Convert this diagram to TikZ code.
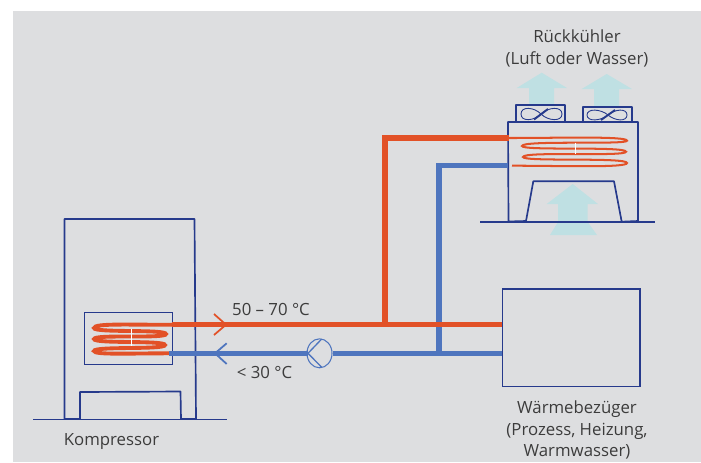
\documentclass[tikz,border=0pt]{standalone}
\usepackage{fontspec}
\setmainfont{Open Sans}
\usetikzlibrary{shapes.geometric}
\definecolor{wandblau}{HTML}{263A8C}
\definecolor{heissrot}{HTML}{E25127}
\definecolor{kaltblau}{HTML}{4E75BE}
\definecolor{luftblau}{HTML}{BFE0E3}
\definecolor{hintergrund}{HTML}{DDDEE0}
\definecolor{schrift}{HTML}{3C3C3C}
\begin{document}
\begin{tikzpicture}[scale=0.2]
		\tikzstyle{every node}+=[inner sep=0pt]
		\tikzstyle{wand}=[draw=wandblau,line width=0.95pt,line join=round]
		\tikzstyle{boden}=[draw=wandblau,line width=0.6pt]
		\tikzstyle{heiss}=[draw=heissrot,line width=2.9pt]
		\tikzstyle{kalt}=[draw=kaltblau,line width=2.9pt]
		\tikzstyle{wendel}=[draw=heissrot,line width=2.2pt]
		\tikzstyle{luft}=[fill=luftblau]
		\tikzstyle{beschriftung}=[text=schrift,font=\fontsize{9.55}{12.3}\selectfont,align=center]
		\useasboundingbox (0,0) rectangle (70.1,-46.2);
		\fill [hintergrund] (1.3,-1.1) rectangle (70.1,-46.2);
		\fill [luft] (54.17,-7.27) -- (56.7,-8.8) -- (55.4,-8.8) -- (55.4,-10.5) -- (52.9,-10.5) -- (52.9,-8.8) -- (51.67,-8.8) -- cycle;
		\fill [luft] (60.67,-7.4) -- (63.2,-8.9) -- (61.9,-8.9) -- (61.9,-10.67) -- (59.4,-10.67) -- (59.4,-8.9) -- (58.17,-8.9) -- cycle;
		\fill [luft] (57.27,-18.4) -- (59.8,-20.4) -- (58.77,-20.4) -- (58.77,-22.2) -- (59.7,-23.5) -- (55,-23.5) -- (55.8,-22.2) -- (55.8,-20.4) -- (54.67,-20.4) -- cycle;
		\coordinate (kboden1) at (3.3,-41.95);
		\coordinate (kboden2) at (22.7,-41.95);
		\coordinate (rboden1) at (48,-22.2);
		\coordinate (rboden2) at (65.5,-22.2);
		\draw [boden] (kboden1) -- (kboden2);
		\draw [boden] (rboden1) -- (rboden2);
		\draw [wand] (6.45,-41.9) -- (6.45,-21.9) -- (19.45,-21.9) -- (19.6,-41.9) -- (18.1,-41.9) -- (18.05,-39.15) -- (8,-39.2) -- (8,-41.9) -- cycle;
		\draw [wandblau,line width=0.75pt] (8.47,-31.27) rectangle (17.27,-36.47);
		\draw [wand] (50.8,-12.2) -- (63.8,-12.2) -- (63.8,-22.1) -- (62.17,-22.17) -- (61.4,-18.13) -- (53.33,-18.13) -- (52.6,-22.1) -- (50.85,-22.15) -- cycle;
		\draw [wand] (51.57,-10.5) rectangle (56.5,-12.2);
		\draw [wand] (58.27,-10.67) rectangle (63.17,-12.2);
		\draw [wandblau,line width=0.5pt] (54.1,-11.4) .. controls (54.8,-10.7) and (56.2,-10.6) .. (56.2,-11.4) .. controls (56.2,-12.2) and (54.8,-12.1) .. (54.1,-11.4) .. controls (53.4,-10.7) and (52.1,-10.6) .. (52.1,-11.4) .. controls (52.1,-12.2) and (53.4,-12.1) .. cycle;
		\draw [wandblau,line width=1.1pt] (53.4,-11.95) -- (54.8,-10.9);
		\draw [wandblau,line width=0.5pt] (60.8,-11.5) .. controls (61.5,-10.9) and (62.7,-10.8) .. (62.7,-11.5) .. controls (62.7,-12.2) and (61.5,-12.1) .. (60.8,-11.5) .. controls (60.1,-10.9) and (58.7,-10.8) .. (58.7,-11.5) .. controls (58.7,-12.2) and (60.1,-12.1) .. cycle;
		\draw [wandblau,line width=1.1pt] (60.1,-12) -- (61.5,-11);
		\coordinate (ausgang) at (17.2,-32.47);
		\coordinate (eingang) at (16.9,-35.33);
		\coordinate (hoch1) at (38.5,-32.47);
		\coordinate (hoch2) at (38.5,-13.8);
		\coordinate (rein) at (50.9,-13.8);
		\coordinate (tief1) at (43.9,-35.33);
		\coordinate (tief2) at (43.9,-16.57);
		\coordinate (raus) at (50.75,-16.57);
		\coordinate (rende) at (51.2,-16.57);
		\draw [wendel] (ausgang) .. controls (13,-32.5) and (9.4,-32.3) .. (9.4,-32.8) .. controls (9.4,-33.3) and (16.6,-32.9) .. (16.6,-33.4) .. controls (16.6,-33.9) and (9.4,-33.4) .. (9.4,-33.9) .. controls (9.4,-34.4) and (16.5,-34) .. (16.5,-34.5) .. controls (16.5,-35) and (9.4,-34.6) .. (9.4,-35.1) .. controls (9.4,-35.5) and (13,-35.33) .. (eingang);
		\draw [white,line width=0.2pt] (13.1,-32.9) -- (13.1,-34.6);
		\draw [heissrot,line width=1.15pt] (rein) .. controls (56,-13.8) and (62.7,-13.6) .. (62.7,-14.07) .. controls (62.7,-14.5) and (52.2,-14) .. (52.2,-14.6) .. controls (52.2,-15.1) and (62.6,-14.6) .. (62.6,-15.17) .. controls (62.6,-15.7) and (52.3,-15.1) .. (52.3,-15.7) .. controls (52.3,-16.2) and (62.7,-15.7) .. (62.7,-16.3) .. controls (62.7,-16.8) and (56,-16.57) .. (rende);
		\draw [white,line width=0.3pt] (57.5,-14.25) -- (57.5,-15.4);
		\node [draw=wandblau,line width=0.75pt,minimum width=2.75cm,minimum height=1.95cm] (waerme) at (57.13,-33.78) {};
		\node [ellipse,draw=kaltblau,line width=0.6pt,minimum width=0.5cm,minimum height=0.58cm] (pumpe) at (31.95,-35.33) {};
		\coordinate (spitze) at (30.8,-35.33);
		\coordinate (pfeil1) at (32.17,-33.9);
		\coordinate (pfeil2) at (32.17,-36.73);
		\draw [kaltblau,line width=0.75pt] (pfeil1) -- (spitze) -- (pfeil2);
		\draw [heiss] (hoch1) -- (hoch2) -- (rein);
		\draw [kalt] (tief1) -- (tief2) -- (raus);
		\draw [heiss] (ausgang) -- (waerme.west |- ausgang);
		\draw [kalt] (pumpe.east) -- (waerme.west |- pumpe.east);
		\draw [kalt] (spitze) -- (eingang);
		\coordinate (rot1) at (21.4,-31.4);
		\coordinate (rot2) at (22.6,-32.47);
		\coordinate (rot3) at (21.4,-33.5);
		\draw [heissrot,line width=1pt] (rot1) -- (rot2) -- (rot3);
		\coordinate (blau1) at (22.67,-34.33);
		\coordinate (blau2) at (21.5,-35.33);
		\coordinate (blau3) at (22.67,-36.4);
		\draw [kaltblau,line width=1pt] (blau1) -- (blau2) -- (blau3);
		\node [beschriftung] (rueckkuehler) at (57.7,-4.82) {Rückkühler\\(Luft oder Wasser)};
		\node [beschriftung] (bezueger) at (57.7,-43) {Wärmebezüger\\(Prozess, Heizung,\\Warmwasser)};
		\node [beschriftung] (kompressor) at (11.15,-44.2) {Kompressor};
		\node [beschriftung] (heisstemp) at (27.1,-30.9) {50 – 70 °C};
		\node [beschriftung] (kalttemp) at (26.45,-37.25) {< 30 °C};
	\end{tikzpicture}
\end{document}
